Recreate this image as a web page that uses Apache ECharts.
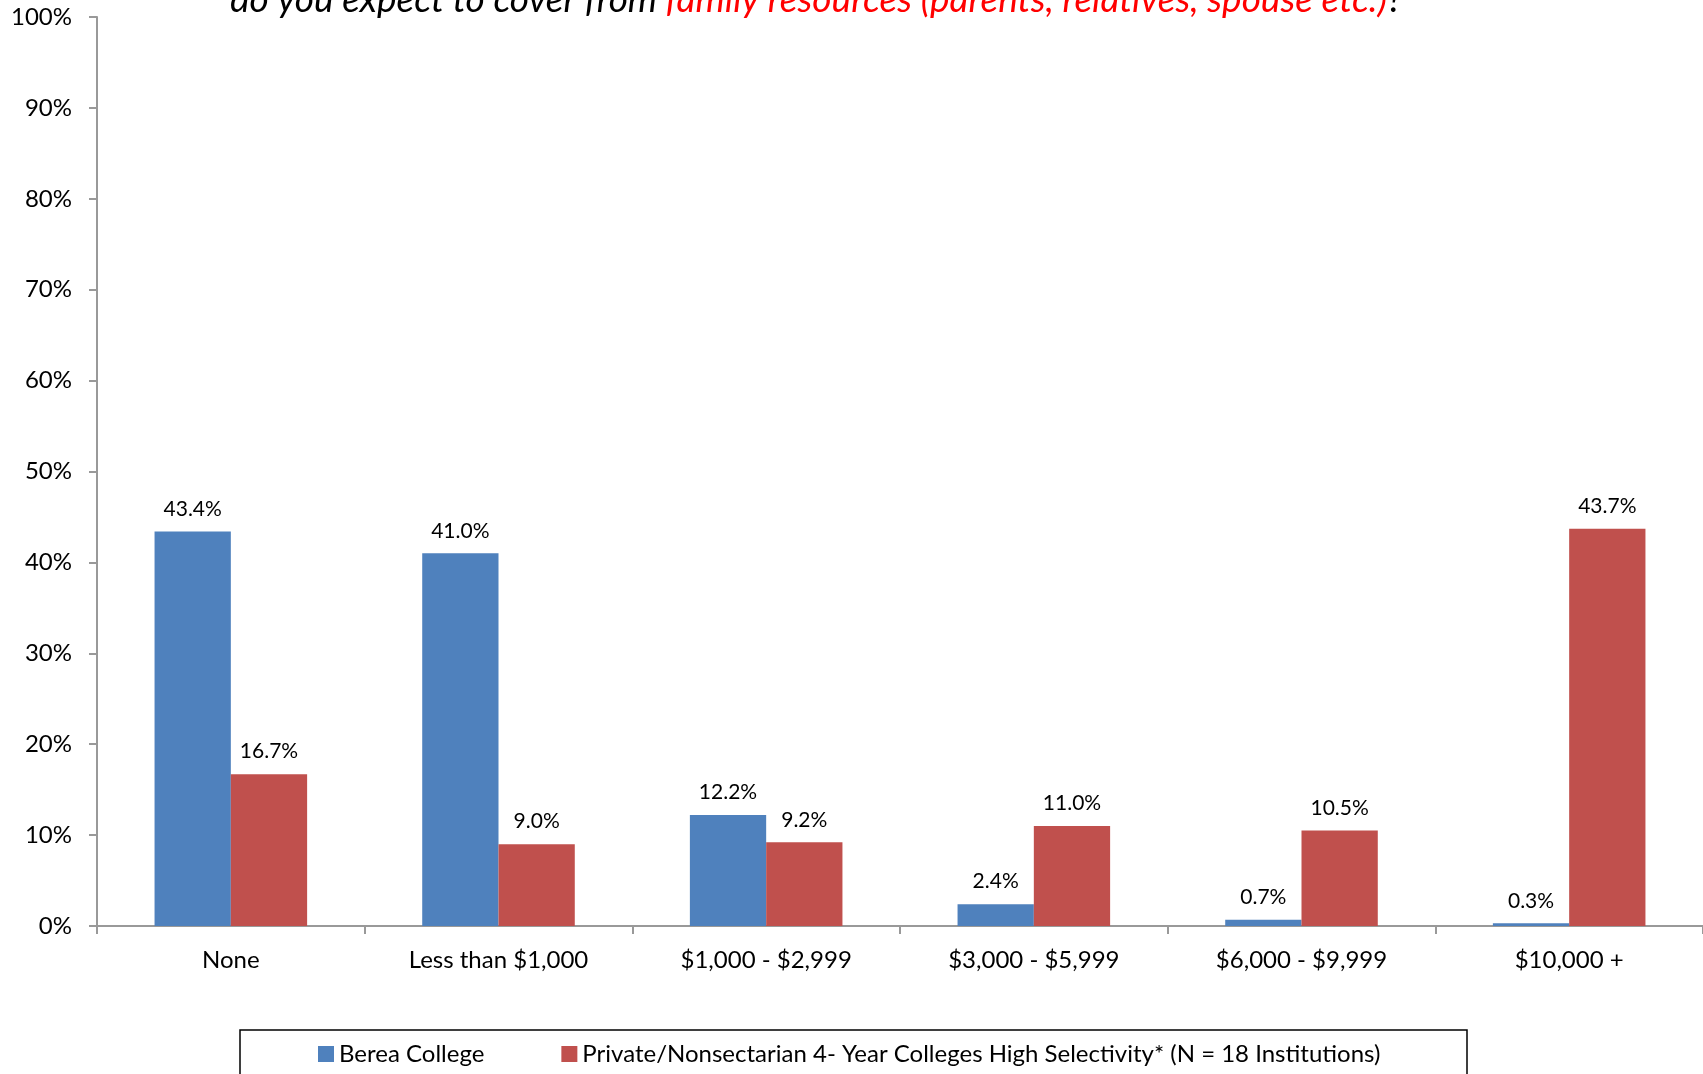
<!DOCTYPE html>
<html>
<head>
<meta charset="utf-8">
<style>
  html, body { margin: 0; padding: 0; background: #fff; }
  #chart { width: 1703px; height: 1074px; }
</style>
<script src="https://cdn.jsdelivr.net/npm/echarts@6/dist/echarts.min.js"></script>
</head>
<body>
<div id="chart"></div>
<script>
// Share of first-year expenses expected from family resources
const categories = ['None', 'Less than $1,000', '$1,000 - $2,999', '$3,000 - $5,999', '$6,000 - $9,999', '$10,000 +'];
const bereaValues = [43.4, 41.0, 12.2, 2.4, 0.7, 0.3];
const peerValues = [16.7, 9.0, 9.2, 11.0, 10.5, 43.7];
const seriesNames = ['Berea College', 'Private/Nonsectarian 4- Year Colleges High Selectivity* (N = 18 Institutions)'];
const yTicks = [0, 10, 20, 30, 40, 50, 60, 70, 80, 90, 100];

const FONT = 'Lato, "Open Sans", sans-serif';
const chart = echarts.init(document.getElementById('chart'), null, { renderer: 'canvas' });

const barLabel = {
  show: true,
  position: 'top',
  distance: 12,
  fontFamily: FONT,
  fontSize: 21,
  color: '#000',
  formatter: p => p.value.toFixed(1) + '%'
};

chart.setOption({
  animation: false,
  backgroundColor: '#fff',
  title: {
    left: 225,
    top: -23,
    padding: 5,
    text: '{b|do you expect to cover from }{r|family resources (parents, relatives, spouse etc.)}{b|?}',
    textStyle: {
      fontWeight: 'normal',
      rich: {
        b: { fontFamily: FONT, fontStyle: 'italic', fontWeight: 'normal', fontSize: 37, color: '#000' },
        r: { fontFamily: FONT, fontStyle: 'italic', fontWeight: 'normal', fontSize: 37, color: '#ff0000' }
      }
    }
  },
  legend: {
    left: 318,
    top: 1042,
    padding: 0,
    itemGap: 77,
    itemWidth: 16,
    itemHeight: 16,
    icon: 'rect',
    textStyle: { fontFamily: FONT, fontSize: 24, color: '#000' },
    data: seriesNames
  },
  graphic: [{
    type: 'rect',
    shape: { x: 240, y: 1030, width: 1227, height: 80 },
    style: { fill: 'none', stroke: '#000', lineWidth: 1.5 },
    silent: true
  }],
  grid: { left: 97, right: 0, top: 17, bottom: 148, containLabel: false },
  xAxis: {
    type: 'category',
    data: categories,
    axisLine: { lineStyle: { color: '#999', width: 2 } },
    axisTick: { show: true, length: 8, alignWithLabel: false, lineStyle: { color: '#999', width: 2 } },
    axisLabel: { fontFamily: FONT, fontSize: 24, color: '#000', margin: 22 }
  },
  yAxis: {
    type: 'value',
    min: 0,
    max: 100,
    interval: 10,
    splitLine: { show: false },
    axisLine: { show: true, lineStyle: { color: '#999', width: 2 } },
    axisTick: { show: true, length: 8, lineStyle: { color: '#999', width: 2 } },
    axisLabel: {
      fontFamily: FONT, fontSize: 24, color: '#000', margin: 25,
      formatter: v => (yTicks.includes(v) ? v + '%' : '')
    }
  },
  series: [
    {
      name: seriesNames[0],
      type: 'bar',
      data: bereaValues,
      barGap: '0%',
      barCategoryGap: '43%',
      itemStyle: { color: '#4F81BD' },
      label: barLabel
    },
    {
      name: seriesNames[1],
      type: 'bar',
      data: peerValues,
      barGap: '0%',
      barCategoryGap: '43%',
      itemStyle: { color: '#C0504D' },
      label: barLabel
    }
  ]
});
</script>
</body>
</html>
